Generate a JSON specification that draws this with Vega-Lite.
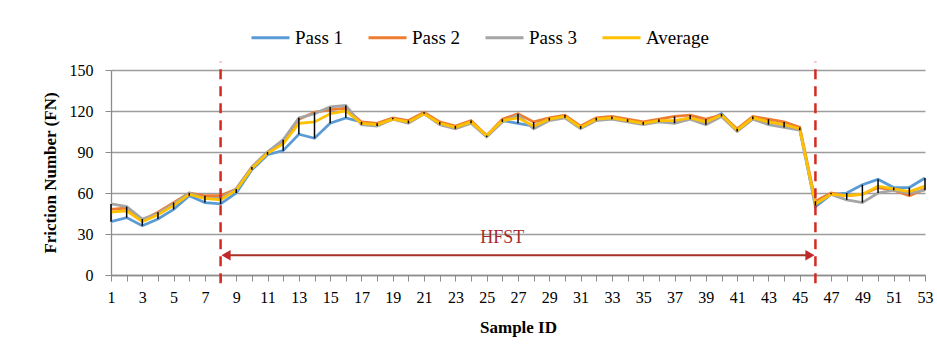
{
  "$schema": "https://vega.github.io/schema/vega-lite/v6.json",
  "width": 814,
  "height": 205,
  "autosize": {"type": "none"},
  "padding": {"left": 111, "top": 70, "right": 12, "bottom": 85},
  "background": "white",
  "config": {
    "font": "Liberation Serif",
    "view": {"stroke": null},
    "style": {
      "guide-label": {"font": "Liberation Serif", "fill": "#000"},
      "guide-title": {"font": "Liberation Serif", "fill": "#000"}
    },
    "axis": {"labelFont": "Liberation Serif", "titleFont": "Liberation Serif", "labelColor": "#000", "titleColor": "#000"},
    "axisX": {
      "labelOverlap": false, "labelFontSize": 16, "labelPadding": 8, "labelFlush": false, "labelBound": false,
      "tickSize": 6, "tickColor": "#8c8c8c", "domainColor": "#8c8c8c", "domainWidth": 1.3, "grid": false,
      "titleFontSize": 17, "titleFontWeight": "bold", "titlePadding": 14
    },
    "axisY": {
      "labelFontSize": 16, "labelPadding": 12, "tickSize": 6, "tickColor": "#8c8c8c",
      "domainColor": "#8c8c8c", "domainWidth": 1.3, "gridColor": "#9d9d9d", "gridWidth": 1.3,
      "titleFontSize": 17, "titleFontWeight": "bold", "titlePadding": 10
    },
    "legend": {"labelFont": "Liberation Serif"},
    "text": {"font": "Liberation Serif"}
  },
  "datasets": {
    "main": [
      {"id": 1, "p1": 39, "p2": 48, "p3": 52, "avg": 46},
      {"id": 2, "p1": 42, "p2": 49, "p3": 50, "avg": 47},
      {"id": 3, "p1": 36, "p2": 40, "p3": 41, "avg": 39},
      {"id": 4, "p1": 41, "p2": 46, "p3": 45, "avg": 44},
      {"id": 5, "p1": 48, "p2": 53, "p3": 52, "avg": 51},
      {"id": 6, "p1": 58, "p2": 60, "p3": 60, "avg": 59},
      {"id": 7, "p1": 53, "p2": 58, "p3": 56, "avg": 56},
      {"id": 8, "p1": 52, "p2": 58, "p3": 56, "avg": 55},
      {"id": 9, "p1": 60, "p2": 63, "p3": 63, "avg": 62},
      {"id": 10, "p1": 77, "p2": 79, "p3": 79, "avg": 78},
      {"id": 11, "p1": 88, "p2": 90, "p3": 90, "avg": 89},
      {"id": 12, "p1": 91, "p2": 98, "p3": 99, "avg": 96},
      {"id": 13, "p1": 103, "p2": 114, "p3": 115, "avg": 111},
      {"id": 14, "p1": 100, "p2": 119, "p3": 118, "avg": 112},
      {"id": 15, "p1": 111, "p2": 121, "p3": 123, "avg": 118},
      {"id": 16, "p1": 115, "p2": 122, "p3": 124, "avg": 120},
      {"id": 17, "p1": 112, "p2": 112, "p3": 110, "avg": 111},
      {"id": 18, "p1": 110, "p2": 111, "p3": 109, "avg": 110},
      {"id": 19, "p1": 114, "p2": 115, "p3": 114, "avg": 114},
      {"id": 20, "p1": 112, "p2": 113, "p3": 111, "avg": 112},
      {"id": 21, "p1": 118, "p2": 119, "p3": 118, "avg": 118},
      {"id": 22, "p1": 111, "p2": 112, "p3": 110, "avg": 111},
      {"id": 23, "p1": 108, "p2": 109, "p3": 107, "avg": 108},
      {"id": 24, "p1": 112, "p2": 113, "p3": 111, "avg": 112},
      {"id": 25, "p1": 102, "p2": 102, "p3": 101, "avg": 102},
      {"id": 26, "p1": 113, "p2": 114, "p3": 112, "avg": 113},
      {"id": 27, "p1": 111, "p2": 118, "p3": 117, "avg": 115},
      {"id": 28, "p1": 109, "p2": 112, "p3": 107, "avg": 109},
      {"id": 29, "p1": 114, "p2": 115, "p3": 113, "avg": 114},
      {"id": 30, "p1": 116, "p2": 117, "p3": 115, "avg": 116},
      {"id": 31, "p1": 108, "p2": 109, "p3": 107, "avg": 108},
      {"id": 32, "p1": 114, "p2": 115, "p3": 113, "avg": 114},
      {"id": 33, "p1": 115, "p2": 116, "p3": 114, "avg": 115},
      {"id": 34, "p1": 113, "p2": 114, "p3": 112, "avg": 113},
      {"id": 35, "p1": 111, "p2": 112, "p3": 110, "avg": 111},
      {"id": 36, "p1": 113, "p2": 114, "p3": 112, "avg": 113},
      {"id": 37, "p1": 112, "p2": 116, "p3": 111, "avg": 113},
      {"id": 38, "p1": 115, "p2": 117, "p3": 114, "avg": 115},
      {"id": 39, "p1": 112, "p2": 114, "p3": 110, "avg": 112},
      {"id": 40, "p1": 118, "p2": 117, "p3": 116, "avg": 117},
      {"id": 41, "p1": 106, "p2": 107, "p3": 105, "avg": 106},
      {"id": 42, "p1": 115, "p2": 116, "p3": 114, "avg": 115},
      {"id": 43, "p1": 112, "p2": 114, "p3": 110, "avg": 112},
      {"id": 44, "p1": 110, "p2": 112, "p3": 108, "avg": 110},
      {"id": 45, "p1": 107, "p2": 108, "p3": 106, "avg": 107},
      {"id": 46, "p1": 50, "p2": 54, "p3": 52, "avg": 52},
      {"id": 47, "p1": 59, "p2": 60, "p3": 59, "avg": 59},
      {"id": 48, "p1": 60, "p2": 58, "p3": 55, "avg": 58},
      {"id": 49, "p1": 66, "p2": 59, "p3": 53, "avg": 59},
      {"id": 50, "p1": 70, "p2": 64, "p3": 60, "avg": 65},
      {"id": 51, "p1": 64, "p2": 62, "p3": 62, "avg": 63},
      {"id": 52, "p1": 64, "p2": 58, "p3": 60, "avg": 61},
      {"id": 53, "p1": 71, "p2": 63, "p3": 62, "avg": 65}
    ],
    "bounds": [{"id": 8}, {"id": 46}],
    "arrow": [{"id": 8.3, "value": 14.5}, {"id": 45.7, "value": 14.5}],
    "headL": [{"id": 8.35, "value": 14.5}],
    "headR": [{"id": 45.65, "value": 14.5}],
    "label": [{"id": 26, "value": 27, "text": "HFST"}]
  },
  "encoding": {
    "x": {
      "field": "id", "type": "quantitative",
      "scale": {"domain": [1, 53], "nice": false, "zero": false},
      "axis": {
        "title": "Sample ID",
        "values": [1,2,3,4,5,6,7,8,9,10,11,12,13,14,15,16,17,18,19,20,21,22,23,24,25,26,27,28,29,30,31,32,33,34,35,36,37,38,39,40,41,42,43,44,45,46,47,48,49,50,51,52,53],
        "labelExpr": "datum.value % 2 == 1 ? datum.label : ''",
        "labelOverlap": false
      }
    }
  },
  "layer": [
    {
      "data": {"name": "main"},
      "transform": [{"fold": ["p1", "p2", "p3", "avg"], "as": ["series", "value"]}],
      "mark": {"type": "line", "strokeWidth": 2.75},
      "encoding": {
        "y": {
          "field": "value", "type": "quantitative",
          "scale": {"domain": [0, 150], "nice": false},
          "axis": {"title": "Friction Number (FN)", "values": [0, 30, 60, 90, 120, 150]}
        },
        "color": {
          "field": "series", "type": "nominal",
          "scale": {"domain": ["p1", "p2", "p3", "avg"], "range": ["#5B9BD5", "#ED7D31", "#A5A5A5", "#FFC000"]},
          "legend": {
            "title": null, "orient": "none", "direction": "horizontal",
            "legendX": 139, "legendY": -53,
            "labelExpr": "datum.value == 'p1' ? 'Pass 1' : datum.value == 'p2' ? 'Pass 2' : datum.value == 'p3' ? 'Pass 3' : 'Average'",
            "symbolType": "stroke", "symbolSize": 1444, "symbolStrokeWidth": 3,
            "labelFontSize": 19, "labelColor": "#000", "labelOffset": 4, "columnPadding": 18
          }
        }
      }
    },
    {
      "data": {"name": "main"},
      "transform": [{"fold": ["p1", "p2", "p3", "avg"], "as": ["series", "value"]}],
      "mark": {"type": "rule", "color": "#000", "strokeWidth": 1.5},
      "encoding": {
        "y": {"aggregate": "min", "field": "value", "type": "quantitative"},
        "y2": {"aggregate": "max", "field": "value"}
      }
    },
    {
      "data": {"name": "bounds"},
      "mark": {"type": "rule", "color": "#D42A20", "strokeWidth": 2.5, "strokeDash": [10, 7]},
      "encoding": {
        "y": {"datum": -6, "type": "quantitative"},
        "y2": {"datum": 156}
      }
    },
    {
      "data": {"name": "arrow"},
      "mark": {"type": "line", "color": "#A93226", "strokeWidth": 2},
      "encoding": {"y": {"field": "value", "type": "quantitative"}}
    },
    {
      "data": {"name": "headL"},
      "mark": {"type": "point", "shape": "triangle-left", "filled": true, "opacity": 1, "color": "#C0282A", "size": 110},
      "encoding": {"y": {"field": "value", "type": "quantitative"}}
    },
    {
      "data": {"name": "headR"},
      "mark": {"type": "point", "shape": "triangle-right", "filled": true, "opacity": 1, "color": "#C0282A", "size": 110},
      "encoding": {"y": {"field": "value", "type": "quantitative"}}
    },
    {
      "data": {"name": "label"},
      "mark": {"type": "text", "color": "#A52A2A", "fontSize": 18},
      "encoding": {"y": {"field": "value", "type": "quantitative"}, "text": {"field": "text"}}
    }
  ]
}
